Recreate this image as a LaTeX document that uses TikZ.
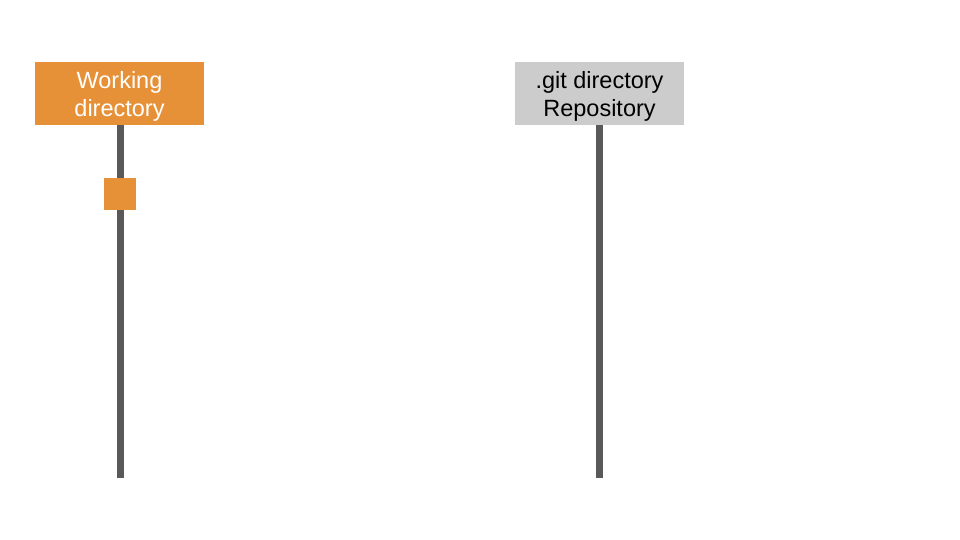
\documentclass[tikz,border=0pt]{standalone}
\usepackage{fontspec}
\setmainfont{Liberation Sans}
\definecolor{gorange}{HTML}{E69138}
\definecolor{ggray}{HTML}{CCCCCC}
\definecolor{gline}{HTML}{595959}
\begin{document}
\begin{tikzpicture}[x=1pt,y=-1pt,
  lanebox/.style={minimum width=169pt,minimum height=63pt,inner sep=0pt},
  lanetext/.style={align=center,inner sep=0pt,font=\fontsize{23.5}{28.5}\selectfont},
  lifeline/.style={draw=gline,line width=7.5pt},
  activation/.style={fill=gorange,minimum width=32pt,minimum height=32pt,inner sep=0pt}]
\useasboundingbox (0,0) rectangle (960,540);
\fill[white] (0,0) rectangle (960,540);
\node[lanebox,fill=gorange] (wd) at (119.5,93.5) {};
\node[lanetext,text=white] (wdt) at (119.5,96.5) {Working\\directory};
\node[lanebox,fill=ggray] (git) at (599.5,93.5) {};
\node[lanetext,text=black] (gitt) at (599.5,96.5) {.git directory\\Repository};
\coordinate (wdend) at (120.5,478);
\coordinate (gitend) at (599.5,478);
\draw[lifeline] (wd.south -| wdend) -- (wdend);
\draw[lifeline] (git.south) -- (gitend);
\node[activation] (act) at (120,194.3) {};
\end{tikzpicture}
\end{document}
